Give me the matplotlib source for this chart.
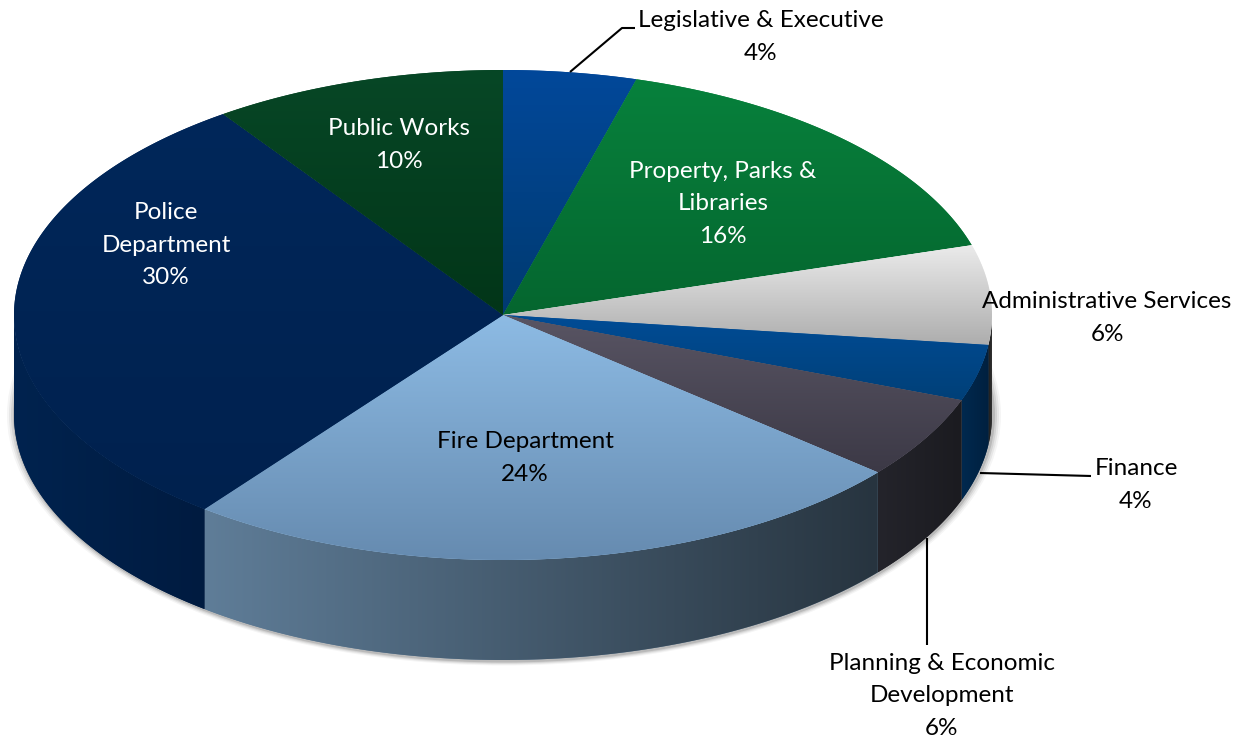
#!/usr/bin/env python3
import matplotlib

matplotlib.use("Agg")
import matplotlib.pyplot as plt
import numpy as np
from matplotlib.patches import Ellipse, Polygon

# shares, the printed labels are rounded
names = ["Legislative & Executive", "Property, Parks &\nLibraries", "Administrative Services", "Finance",
         "Planning & Economic\nDevelopment", "Fire Department", "Police\nDepartment", "Public Works"]
shares = [4.4, 16.0, 6.55, 3.7, 5.45, 24.35, 29.85, 9.7]
percents = [4, 16, 6, 4, 6, 24, 30, 10]

top_first = ["#02489a", "#07813c", "#ebebeb", "#014c96", "#595564", "#8dbbe4", "#00275a", "#074726"]
top_last = ["#003a70", "#05662f", "#adadad", "#004078", "#3c3946", "#668bb0", "#00214e", "#023518"]
side_first = ["#000000", "#000000", "#1a1a1a", "#00294f", "#24242b", "#5f7d98", "#00234f", "#000000"]
side_last = ["#000000", "#000000", "#333333", "#00203f", "#1b1b20", "#27343f", "#001b40", "#000000"]
text_colors = ["black", "white", "black", "black", "black", "black", "white", "white"]
label_x = [761, 723, 1107, 1136, 942, 525, 166, 399]
label_y = [37, 204, 318, 485, 696, 458, 245, 145]

cx, cy, rx, ry, depth = 503, 315, 489, 245, 100

plt.rcParams["font.family"] = ["Lato", "DejaVu Sans"]
fig = plt.figure(figsize=(12.47, 7.41), dpi=100)
ax = fig.add_axes([0, 0, 1, 1])
ax.set_xlim(0, 1247)
ax.set_ylim(741, 0)
ax.axis("off")


def rim(angles, drop=0):
    return np.column_stack([cx + rx * np.sin(angles), cy + drop - ry * np.cos(angles)])


def shade(points, first, last, horizontal=False, zorder=2):
    c0 = np.array(matplotlib.colors.to_rgb(first))
    c1 = np.array(matplotlib.colors.to_rgb(last))
    ramp = np.linspace(0, 1, 256)[:, None] * (c1 - c0) + c0
    img = ramp[None, :, :] if horizontal else ramp[:, None, :]
    x0, y0 = points.min(axis=0)
    x1, y1 = points.max(axis=0)
    patch = Polygon(points, closed=True, facecolor=first, edgecolor="none", zorder=zorder)
    ax.add_patch(patch)
    im = ax.imshow(img, extent=(x0, x1, y1, y0), aspect="auto", zorder=zorder, interpolation="bilinear")
    im.set_clip_path(patch)


# soft shadow under the disc
for grow, alpha in zip([8, 6, 4, 2], [0.04, 0.06, 0.08, 0.12]):
    ax.add_patch(Ellipse((cx + 1, cy + depth), 2 * rx + 2 * grow, 2 * ry + grow + 3, color="black",
                         alpha=alpha, lw=0, zorder=1))

edges = np.cumsum([0] + shares) / sum(shares) * 2 * np.pi

# walls only show on the front half of the disc
for i in range(len(shares)):
    start = max(edges[i], np.pi / 2)
    stop = min(edges[i + 1], 3 * np.pi / 2)
    if stop <= start:
        continue
    angles = np.linspace(start, stop, 120)
    wall = np.vstack([rim(angles), rim(angles[::-1], depth)])
    shade(wall, side_first[i], side_last[i], horizontal=True)

for i in range(len(shares)):
    angles = np.linspace(edges[i], edges[i + 1], 160)
    slice_pts = np.vstack([[cx, cy], rim(angles)])
    shade(slice_pts, top_first[i], top_last[i], zorder=3)

for i, name in enumerate(names):
    ax.text(label_x[i], label_y[i], f"{name}\n{percents[i]}%", color=text_colors[i], ha="center", va="center",
            fontsize=17.5, linespacing=1.7, zorder=5)

lead_x = [[570, 622, 635], [980, 1091], [927, 927]]
lead_y = [[72, 28, 28], [473, 476], [538, 645]]
for xs, ys in zip(lead_x, lead_y):
    ax.plot(xs, ys, color="black", lw=1.5, zorder=4, solid_capstyle="butt")

fig.savefig("out.png", dpi=100)
